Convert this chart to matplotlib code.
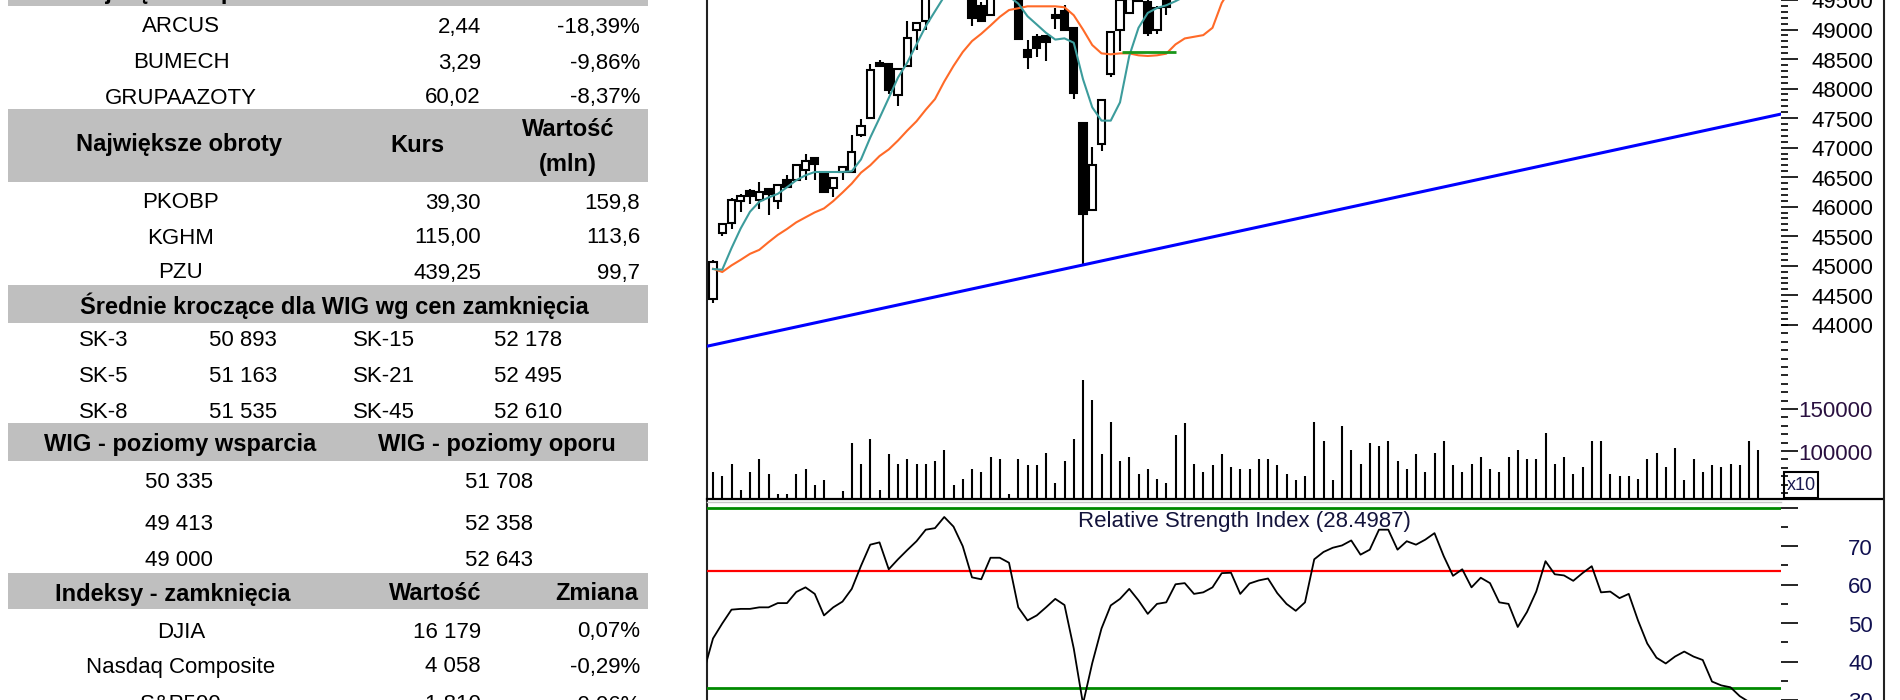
import numpy as np
import matplotlib
matplotlib.use("Agg")
import matplotlib.pyplot as plt
from matplotlib import transforms
from matplotlib.patches import Rectangle

plt.rcParams['font.family'] = ['Liberation Sans', 'DejaVu Sans']

# ---------------- table data ----------------
drop_names = ["ARCUS", "BUMECH", "GRUPAAZOTY"]
drop_price = ["2,44", "3,29", "60,02"]
drop_change = ["-18,39%", "-9,86%", "-8,37%"]
turn_names = ["PKOBP", "KGHM", "PZU"]
turn_price = ["39,30", "115,00", "439,25"]
turn_value = ["159,8", "113,6", "99,7"]
sma_left_lbl = ["SK-3", "SK-5", "SK-8"]
sma_left_val = ["50 893", "51 163", "51 535"]
sma_right_lbl = ["SK-15", "SK-21", "SK-45"]
sma_right_val = ["52 178", "52 495", "52 610"]
support = ["50 335", "49 413", "49 000"]
resistance = ["51 708", "52 358", "52 643"]
idx_names = ["DJIA", "Nasdaq Composite", "S&P500"]
idx_vals = ["16 179", "4 058", "1 810"]
idx_chg = ["0,07%", "-0,29%", "-0,06%"]

# ---------------- chart data (daily, index 0..113) ----------------
c_open = [44430, 45560, 45730, 46090, 46270, 46110, 46300, 46100, 46450, 46450,
          46620, 46820, 46560, 46310, 46590, 46590, 47220, 47500, 48440, 48410,
          47890, 48390, 48990, 49140, 49560, 49750, 49980, 49820, 49600, 49390,
          49250, 49650, 49700, 49620, 48660, 48870, 48890, 49250, 49310, 49030,
          47420, 45950, 47060, 48240, 49000, 49280, 49560, 49470, 49000, 49520]
c_high = [45100, 45720, 46140, 46210, 46300, 46420, 46310, 46390, 46530, 46720,
          46900, 46840, 46580, 46490, 46690, 47220, 47490, 48410, 48480, 48420,
          48340, 49140, 49120, 49620, 49800, 50050, 50100, 49900, 49650, 49460,
          49700, 49750, 49780, 49650, 48820, 48920, 48900, 49370, 49420, 49040,
          47430, 47010, 47820, 48980, 49560, 49560, 49650, 49500, 49400, 49560]
c_low = [44370, 45500, 45620, 45910, 46050, 45960, 45860, 45960, 46320, 46430,
         46450, 46450, 46240, 46170, 46450, 46570, 47180, 47480, 48360, 47910,
         47700, 48380, 48650, 49000, 49500, 49700, 49750, 49520, 49060, 49120,
         49240, 49560, 49580, 48830, 48330, 48540, 48470, 49010, 48970, 47820,
         45000, 45940, 46950, 48200, 48640, 49270, 49460, 48890, 48920, 49240]
c_close = [45070, 45700, 46110, 46180, 46180, 46250, 46210, 46370, 46340, 46710,
           46780, 46730, 46250, 46480, 46670, 46920, 47360, 48310, 48380, 47980,
           48330, 48860, 49110, 49560, 49750, 49980, 49820, 49600, 49200, 49140,
           49650, 49680, 49620, 48840, 48540, 48690, 48790, 49200, 49000, 47930,
           45880, 46710, 47810, 48960, 49500, 49520, 49480, 48940, 49370, 49380]

ma_short = [44943, 44932, 45297, 45633, 45914, 46082, 46155, 46217, 46329, 46447,
            46531, 46587, 46587, 46587, 46587, 46599, 46800, 47170, 47500, 47840,
            48187, 48439, 48748, 49057, 49309, 49560, 49720, 49800, 49760, 49700,
            49680, 49650, 49560, 49440, 49225, 49085, 48944, 48830, 48850, 48776,
            48159, 47682, 47457, 47457, 47766, 48552, 49029, 49281, 49365, 49410,
            49480, 49560, 49650]
ma_long = [44949, 44893, 45005, 45100, 45201, 45268, 45398, 45521, 45622, 45734,
           45819, 45903, 45970, 46094, 46239, 46391, 46576, 46700, 46857, 46969,
           47120, 47289, 47446, 47642, 47822, 48119, 48383, 48619, 48804, 48928,
           49068, 49214, 49330, 49360, 49393, 49393, 49393, 49393, 49377, 49242,
           49000, 48737, 48596, 48580, 48596, 48596, 48563, 48552, 48563, 48591,
           48748, 48849, 48877, 48905, 49029, 49450, 49700]

volume = [75000, 70000, 85000, 54000, 75000, 91000, 73000, 49000, 49000, 73000,
          78000, 60000, 65000, 43500, 52000, 109000, 85000, 114000, 54000, 96000,
          85000, 91000, 85000, 85000, 88000, 101000, 60000, 67000, 78000, 75000,
          93000, 91000, 49000, 91000, 83000, 83000, 98000, 62000, 88000, 114000,
          184000, 161000, 96000, 135000, 88000, 93000, 73000, 78000, 67000, 62000,
          119000, 133000, 85000, 75000, 83000, 96000, 81000, 78000, 78000, 91000,
          91000, 83000, 73000, 65000, 70000, 135000, 112000, 65000, 130000, 101000,
          85000, 109000, 106000, 112000, 88000, 78000, 96000, 75000, 98000, 112000,
          83000, 75000, 85000, 93000, 78000, 75000, 93000, 101000, 91000, 91000,
          122000, 85000, 93000, 73000, 81000, 112000, 112000, 73000, 70000, 70000,
          67000, 91000, 98000, 81000, 104000, 65000, 91000, 75000, 83000, 81000,
          85000, 83000, 112000, 101000]

# RSI from the day before index 0 (index -1) to index 113
rsi = [37.4,
       46.0, 49.9, 53.5, 53.7, 53.7, 54.1, 54.1, 55.2, 55.2, 58.1,
       59.3, 57.6, 52.0, 54.1, 55.6, 58.9, 64.9, 70.4, 71.0, 64.0,
       66.6, 69.0, 71.3, 74.3, 74.7, 77.6, 75.1, 70.0, 61.9, 61.4,
       67.0, 67.0, 65.7, 54.1, 50.7, 52.0, 54.1, 56.3, 54.7, 43.4,
       29.0, 39.6, 48.6, 54.6, 56.3, 58.9, 55.9, 52.4, 55.0, 55.4,
       60.1, 60.4, 57.6, 58.0, 59.3, 63.0, 63.1, 57.6, 60.3, 61.1,
       61.6, 57.8, 55.0, 53.2, 55.4, 66.6, 68.5, 69.6, 70.2, 71.5,
       67.8, 69.1, 74.3, 74.3, 69.1, 71.3, 70.4, 71.7, 73.4, 67.4,
       62.3, 64.0, 59.3, 61.8, 60.4, 55.4, 55.0, 49.0, 52.9, 58.2,
       66.1, 62.7, 62.4, 61.0, 63.0, 64.8, 58.0, 58.2, 56.5, 57.6,
       50.7, 44.7, 41.0, 39.5, 41.3, 42.6, 41.3, 40.4, 34.8, 33.8,
       33.3, 31.0, 29.5, 28.5]
rsi_last = "28.4987"
rsi_levels_green = [80, 33.1]
rsi_level_red = 63.6

trend_p1 = (0, 43658)
trend_p2 = (113, 47485)
support_seg = (44.2, 50.1, 48620)

price_ticks = list(range(44000, 49501, 500))
volume_ticks = [100000, 150000]
rsi_ticks = [30, 40, 50, 60, 70]

# ---------------- layout ----------------
W, H = 1900, 700
fig = plt.figure(figsize=(19, 7), dpi=100)
fig.patch.set_facecolor('white')

tab = fig.add_axes([0, 0, 1, 1])
tab.set_xlim(0, W)
tab.set_ylim(H, 0)
tab.axis('off')


def rect(left, top, right, bottom):
    return [left / W, 1 - bottom / H, (right - left) / W, (bottom - top) / H]


PL, PR = 707, 1781
X0, DX = 713, 9.25
XMIN, XMAX = (PL - X0) / DX, (PR - X0) / DX

axp = fig.add_axes(rect(PL, 0, PR, 498.5))
axv = fig.add_axes(rect(PL, 0, PR, 498.5))
axr = fig.add_axes(rect(PL, 502, PR, 700))
for ax in (axp, axv, axr):
    ax.patch.set_visible(False)
    for s in ax.spines.values():
        s.set_visible(False)
    ax.set_xlim(XMIN, XMAX)
    ax.tick_params(axis='x', which='both', bottom=False, top=False,
                   labelbottom=False)
    ax.yaxis.tick_right()
    ax.tick_params(axis='y', which='both', direction='out', left=False,
                   right=True, labelleft=False, labelright=False, color='black')
    ax.tick_params(axis='y', which='major', length=12, width=1.2)
    ax.tick_params(axis='y', which='minor', length=5, width=1.2)

axp.set_ylim(41057, 49449.5)
axv.set_ylim(43475, 636690)
axr.set_ylim(30.56, 81.5)

axp.set_yticks(price_ticks)
axp.set_yticks(np.arange(44000, 49500, 100), minor=True)
axv.set_yticks(volume_ticks)
axv.set_yticks(np.arange(50000, 250001, 10000), minor=True)
axr.set_yticks(rsi_ticks + [80])
axr.set_yticks([35, 45, 55, 65, 75], minor=True)

# ---------------- candles ----------------
o = np.array(c_open, float)
h = np.array(c_high, float)
l = np.array(c_low, float)
c = np.array(c_close, float)
xs = np.arange(len(o))
axp.vlines(xs, l, h, color='black', lw=1.5, zorder=2)
up = c >= o
axp.bar(xs, np.abs(c - o), bottom=np.minimum(o, c), width=0.78,
        color=np.where(up, 'white', 'black'), edgecolor='black',
        linewidth=1.5, zorder=3)

axp.plot(np.arange(len(ma_long)), ma_long, color='#ff6a28', lw=1.5, zorder=4)
axp.plot(np.arange(len(ma_short)), ma_short, color='#3c9c9c', lw=1.5, zorder=4)
axp.hlines(support_seg[2], support_seg[0], support_seg[1], color='#1a961a',
           lw=2.0, zorder=5)
axp.axline(trend_p1, trend_p2, color='#0000ff', lw=2.2, zorder=5)

# ---------------- volume ----------------
axv.vlines(np.arange(len(volume)), 43475, volume, color='black', lw=1.5)

# ---------------- RSI ----------------
axr.plot(np.arange(-1, len(rsi) - 1), rsi, color='black', lw=1.3, zorder=3)
for lv in rsi_levels_green:
    axr.axhline(lv, color='#008a00', lw=2.0, zorder=2)
axr.axhline(rsi_level_red, color='#ff0000', lw=1.6, zorder=2)
axr.text((XMIN + XMAX) / 2, 76.4, f"Relative Strength Index ({rsi_last})",
         ha='center', va='center', fontsize=16, color='#14143c', zorder=1)

# ---------------- axis labels ----------------
LBL_X = 1873 / W


def ylabels(ax, vals, texts, color):
    tr = transforms.blended_transform_factory(fig.transFigure, ax.transData)
    tr = transforms.offset_copy(tr, fig=fig, y=-3, units='dots')
    for v, t in zip(vals, texts):
        ax.text(LBL_X, v, t, transform=tr, ha='right', va='center',
                fontsize=16, color=color, clip_on=False)


ylabels(axp, price_ticks, [str(v) for v in price_ticks], 'black')
ylabels(axv, volume_ticks, [str(v) for v in volume_ticks], '#2a1040')
ylabels(axr, rsi_ticks, [str(v) for v in rsi_ticks], '#101050')

# frame lines
tab.plot([PL, PL], [0, H], color='#222222', lw=1.5)
tab.plot([1884, 1884], [0, H], color='#222222', lw=1.5)
tab.plot([PL, 1882], [498.5, 498.5], color='black', lw=1.6)
tab.plot([PL, PR], [502, 502], color='#c8c8c8', lw=1.0)
tab.add_patch(Rectangle((1784, 472), 34, 26, fill=False, lw=1.5,
                        edgecolor='black'))
tab.text(1801, 486, 'x10', fontsize=13, ha='center', va='center',
         color='#1a1a50')

# ---------------- table ----------------
GRAY = '#bfbfbf'
for top, bot in [(-2, 6), (109, 182), (285, 323), (423, 461), (573, 609)]:
    tab.add_patch(Rectangle((8, top), 640, bot - top, facecolor=GRAY,
                            edgecolor='none', zorder=0))

FS, FSB = 16, 17
DY = 2


def t(x, y, s, ha='center', bold=False, va='center'):
    tab.text(x, y + DY, s, ha=ha, va=va, fontsize=FSB if bold else FS,
             fontweight='bold' if bold else 'normal', color='black', zorder=2)


tab.text(179, -1, "Największe spadki", ha='center', va='baseline',
         fontsize=FSB, fontweight='bold', color='black', zorder=2)

for y, a, b, cc in zip([25, 61, 96], drop_names, drop_price, drop_change):
    t(181, y, a)
    t(481, y, b, ha='right')
    t(640, y, cc, ha='right')

t(179, 143, "Największe obroty", bold=True)
t(417, 143, "Kurs", bold=True)
t(568, 127, "Wartość", bold=True)
t(568, 163, "(mln)", bold=True)
for y, a, b, cc in zip([201, 236, 271], turn_names, turn_price, turn_value):
    t(181, y, a)
    t(481, y, b, ha='right')
    t(640, y, cc, ha='right')

t(334, 304, "Średnie kroczące dla WIG wg cen zamknięcia", bold=True)
for y, a, b, cc, d in zip([339, 374, 410], sma_left_lbl, sma_left_val,
                          sma_right_lbl, sma_right_val):
    t(79, y, a, ha='left')
    t(209, y, b, ha='left')
    t(353, y, cc, ha='left')
    t(494, y, d, ha='left')

t(180, 443, "WIG - poziomy wsparcia", bold=True)
t(497, 443, "WIG - poziomy oporu", bold=True)
for y, a, b in zip([480, 522, 558], support, resistance):
    t(179, y, a)
    t(499, y, b)

t(173, 592, "Indeksy - zamknięcia", bold=True)
t(481, 592, "Wartość", ha='right', bold=True)
t(638, 592, "Zmiana", ha='right', bold=True)
for y, a, b, cc in zip([630, 665, 703], idx_names, idx_vals, idx_chg):
    t(181, y, a)
    t(481, y, b, ha='right')
    t(640, y, cc, ha='right')

fig.savefig("out.png", dpi=100, facecolor='white')
